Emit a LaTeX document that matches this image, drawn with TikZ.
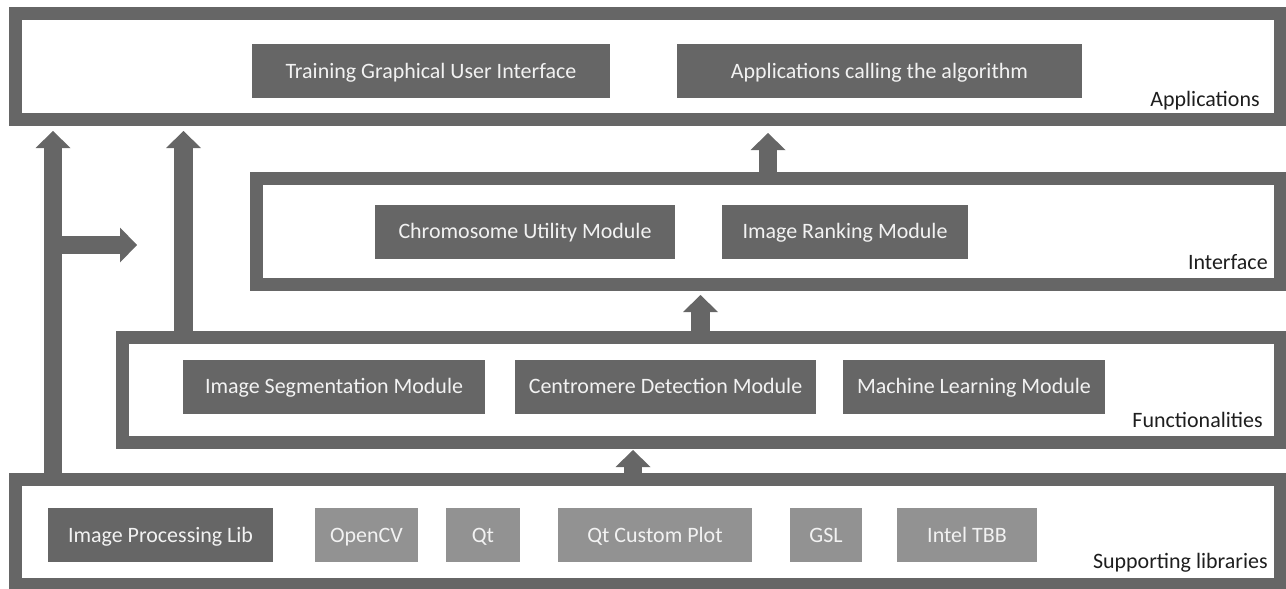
\documentclass[tikz,border=0pt]{standalone}
\usepackage{fontspec}
\setmainfont{Carlito}
\usetikzlibrary{arrows.meta,calc,positioning}

\definecolor{framegray}{HTML}{666666}
\definecolor{libgray}{HTML}{929292}
\definecolor{boxtext}{HTML}{F2F2F2}
\definecolor{nametext}{HTML}{1E1E1E}

\newlength\unitpx
\setlength\unitpx{0.2mm}

\tikzset{
  layer/.style={draw=framegray, line width=13\unitpx, fill=white, inner sep=0pt},
  module/.style={fill=framegray, text=boxtext, minimum height=54\unitpx, inner sep=0pt,
    text height=10pt, text depth=2pt, font=\fontsize{12.5}{15}\selectfont},
  extlib/.style={module, fill=libgray},
  layername/.style={anchor=base east, inner sep=0pt, text=nametext,
    font=\fontsize{12.5}{15}\selectfont},
  flow/.style={draw=framegray, line width=3.7mm,
    -{Triangle[width=7mm,length=3.4mm,line width=0pt]}},
}

\begin{document}
\begin{tikzpicture}[x=0.2mm, y=-0.2mm]
  \useasboundingbox (0,0) rectangle (1286,588);

  % layers
  \node[layer, minimum width=1265\unitpx, minimum height=106\unitpx] (app) at (648,66.5) {};
  \node[layer, minimum width=1024\unitpx, minimum height=106\unitpx] (intf) at (768.5,231.5) {};
  \node[layer, minimum width=1158\unitpx, minimum height=105\unitpx] (func) at (701.5,390) {};
  \node[layer, minimum width=1265\unitpx, minimum height=105\unitpx] (supp) at (648,532) {};

  \node[layername] (appname) at ($(app.south east)+(-27,-20)$) {Applications};
  \node[layername] (intfname) at ($(intf.south east)+(-19,-22)$) {Interface};
  \node[layername] (funcname) at ($(func.south east)+(-24,-22)$) {Functionalities};
  \node[layername] (suppname) at ($(supp.south east)+(-19,-23)$) {Supporting libraries};

  % applications
  \node[module, minimum width=358\unitpx] (gui) at (431,71) {Training Graphical User Interface};
  \node[module, minimum width=405\unitpx] (calls) at (879.5,71) {Applications calling the algorithm};

  % interface
  \node[module, minimum width=300\unitpx] (chromo) at (525,231.5) {Chromosome Utility Module};
  \node[module, minimum width=246\unitpx] (rank) at (845,231.5) {Image Ranking Module};

  % functionalities
  \node[module, minimum width=302\unitpx] (segm) at (334,386.5) {Image Segmentation Module};
  \node[module, minimum width=301\unitpx] (centro) at (665.5,386.5) {Centromere Detection Module};
  \node[module, minimum width=262\unitpx] (learn) at (974,386.5) {Machine Learning Module};

  % supporting libraries
  \node[module, minimum width=225\unitpx] (iplib) at (160.5,535) {Image Processing Lib};
  \node[extlib, minimum width=103\unitpx] (opencv) at (366.5,535) {OpenCV};
  \node[extlib, minimum width=74\unitpx] (qt) at (483,535) {Qt};
  \node[extlib, minimum width=194\unitpx] (qtplot) at (655,535) {Qt Custom Plot};
  \node[extlib, minimum width=72\unitpx] (gsl) at (826,535) {GSL};
  \node[extlib, minimum width=140\unitpx] (tbb) at (967,535) {Intel TBB};

  % arrows
  \coordinate (ax1) at (53,0);
  \coordinate (ax2) at (183.5,0);
  \coordinate (ax3) at (768,0);
  \coordinate (ax4) at (700.5,0);
  \coordinate (ax5) at (633,0);
  \coordinate (hend) at (137,245);

  \draw[flow, shorten >=1mm] (supp.north -| ax1) -- (app.south -| ax1);
  \draw[flow, shorten >=1mm] (func.north -| ax2) -- (app.south -| ax2);
  \draw[flow] (hend -| ax1) -- (hend);
  \draw[flow, shorten >=1.4mm] (intf.north -| ax3) -- (app.south -| ax3);
  \draw[flow, shorten >=0.8mm] (func.north -| ax4) -- (intf.south -| ax4);
  \draw[flow, shorten >=0.2mm] (supp.north -| ax5) -- (func.south -| ax5);
\end{tikzpicture}
\end{document}
